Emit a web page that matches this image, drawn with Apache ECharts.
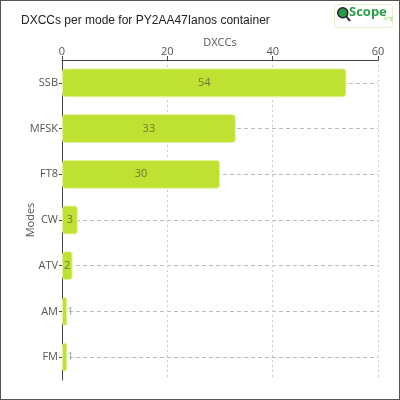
<!DOCTYPE html>
<html>
<head>
<meta charset="utf-8">
<script src="https://cdn.jsdelivr.net/npm/echarts@6/dist/echarts.min.js"></script>
<style>
html, body { margin: 0; padding: 0; background: #fff; }
#chart { width: 398px; height: 398px; border: 1px solid #555; }
</style>
</head>
<body>
<div id="chart"></div>
<script>
var modes = ['SSB', 'MFSK', 'FT8', 'CW', 'ATV', 'AM', 'FM'];
var dxccs = [54, 33, 30, 3, 2, 1, 1];
var xTicks = [0, 20, 40, 60];

var font = '"Open Sans", sans-serif';

// thin bars: label spills out, lighter colour like the original
var barData = dxccs.map(function (v) {
	return v > 1 ? v : { value: v, label: { position: 'right', distance: 0, color: '#8fa8b5' } };
});

var myChart = echarts.init(document.getElementById('chart'));

option = {
	animation: false,
	title: {
		text: 'DXCCs per mode for PY2AA47Ianos container',
		left: 15,
		top: 9,
		textStyle: { fontFamily: '"Liberation Sans", sans-serif', fontSize: 12, fontWeight: 'normal', color: '#222' }
	},
	graphic: [
		{ type: 'rect', left: 333, top: 3, shape: { width: 58, height: 23, r: 3 },
			style: { fill: '#fff', stroke: '#e6f0c8', lineWidth: 1 } },
		{ type: 'circle', left: 336, top: 6, shape: { r: 5 },
			style: { fill: '#2a9a4a', stroke: '#222', lineWidth: 1.5 } },
		{ type: 'line', shape: { x1: 345, y1: 15, x2: 349, y2: 20 },
			style: { stroke: '#222', lineWidth: 2 } },
		{ type: 'text', left: 348, top: 5,
			style: { text: 'Scope', fill: '#2aa048', font: 'bold 13px "Open Sans", sans-serif' } },
		{ type: 'text', left: 381, top: 14,
			style: { text: '.org', fill: '#9ccf8a', font: '6px "Open Sans", sans-serif' } }
	],
	grid: {
		left: 61,
		right: 21,
		top: 59,
		bottom: 19,
		containLabel: false
	},
	xAxis: {
		type: 'value',
		position: 'top',
		min: 0,
		max: 60,
		interval: 20,
		name: 'DXCCs',
		nameLocation: 'middle',
		nameGap: 12,
		nameMoveOverlap: false,
		nameTextStyle: { fontFamily: font, fontSize: 11, color: '#555' },
		axisLine: { show: true, lineStyle: { color: '#444' } },
		axisTick: { show: true, length: 4, lineStyle: { color: '#444' } },
		axisLabel: { fontFamily: font, fontSize: 11, color: '#555', margin: 3,
			formatter: function (v) { return xTicks.indexOf(v) >= 0 ? v : ''; } },
		splitLine: { show: true, lineStyle: { color: '#ccc', type: [2, 3] } }
	},
	yAxis: {
		type: 'category',
		inverse: true,
		data: modes,
		name: 'Modes',
		nameLocation: 'middle',
		nameGap: 26,
		nameMoveOverlap: false,
		nameTextStyle: { fontFamily: font, fontSize: 11, color: '#555' },
		axisLine: { show: true, lineStyle: { color: '#444' } },
		axisTick: { show: true, alignWithLabel: true, length: 3, lineStyle: { color: '#444' } },
		axisLabel: { fontFamily: font, fontSize: 11, color: '#555', margin: 4 },
		splitLine: { show: true, alignWithLabel: true, lineStyle: { color: '#bbb', type: [4, 3] } }
	},
	series: [
		{
			name: 'DXCCs',
			type: 'bar',
			data: barData,
			barWidth: '63%',
			itemStyle: { color: '#bee132', borderColor: '#e3f29a', borderWidth: 1, borderRadius: 3 },
			label: {
				show: true,
				position: 'inside',
				fontFamily: font,
				fontSize: 11,
				color: '#6b7a3a'
			}
		}
	]
};

myChart.setOption(option);
</script>
</body>
</html>
